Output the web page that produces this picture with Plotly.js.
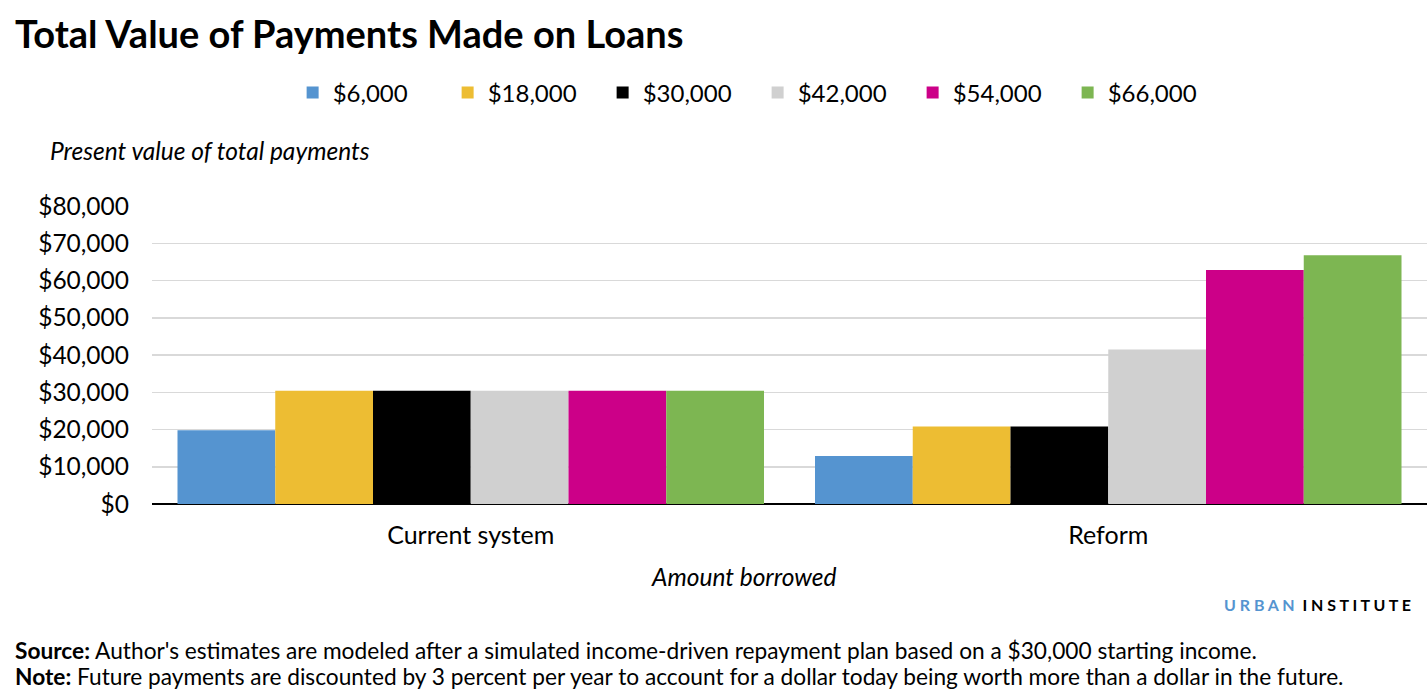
<!DOCTYPE html>
<html>
<head>
<meta charset="utf-8">
<script src="https://cdn.plot.ly/plotly-3.0.1.min.js"></script>
<style>
  html, body { margin: 0; padding: 0; background: #fff; }
  #chart { width: 1427px; height: 697px; }
</style>
</head>
<body>
<div id="chart"></div>
<script>
// ── data ──────────────────────────────────────────────────────────────
const categories = ['Current system', 'Reform'];
const seriesNames = ['$6,000', '$18,000', '$30,000', '$42,000', '$54,000', '$66,000'];
const seriesColors = ['#5594d0', '#edbd33', '#000000', '#d0d0d0', '#cc0088', '#7db652'];
const loan6k  = [19800, 12900];
const loan18k = [30400, 20800];
const loan30k = [30400, 20800];
const loan42k = [30400, 41500];
const loan54k = [30400, 62800];
const loan66k = [30400, 66800];
const seriesValues = [loan6k, loan18k, loan30k, loan42k, loan54k, loan66k];
const yTicks = [0, 10000, 20000, 30000, 40000, 50000, 60000, 70000, 80000];

const FONT = 'Lato, "Open Sans", sans-serif';

const traces = seriesNames.map(function (name, i) {
  return {
    type: 'bar',
    name: name,
    x: categories,
    y: seriesValues[i],
    marker: { color: seriesColors[i], line: { width: 0 } },
    hoverinfo: 'skip',
  };
});

const layout = {
  width: 1427,
  height: 697,
  margin: { l: 152, r: 0, t: 206, b: 193, pad: 0 },
  paper_bgcolor: '#fff',
  plot_bgcolor: '#fff',
  font: { family: FONT, color: '#000', size: 24 },
  barmode: 'group',
  bargap: 0.08,
  bargroupgap: 0,
  showlegend: true,
  legend: {
    orientation: 'h',
    x: 0.475, xanchor: 'center',
    y: 1 - 93 / 697, yref: 'container', yanchor: 'middle',
    font: { family: FONT, size: 24, color: '#000' },
    itemwidth: 30,
    traceorder: 'normal',
    entrywidth: 110,
    entrywidthmode: 'pixels',
  },
  xaxis: {
    type: 'category',
    showgrid: false,
    showline: false,
    ticks: '',
    tickfont: { family: FONT, size: 25 },
    ticklabelstandoff: 14,
    fixedrange: true,
  },
  yaxis: {
    range: [0, 80000],
    tickvals: yTicks,
    tickformat: '$,.0f',
    showgrid: true,
    gridcolor: '#d9d9d9',
    gridwidth: 1.5,
    zeroline: true,
    zerolinecolor: '#000',
    zerolinewidth: 2,
    showline: false,
    ticks: '',
    tickfont: { family: FONT, size: 24.5 },
    ticklabelstandoff: 22,
    fixedrange: true,
  },
  annotations: [
    {
      text: '<b>Total Value of Payments Made on Loans</b>',
      xref: 'paper', yref: 'paper', x: 0, y: 1, showarrow: false,
      xanchor: 'left', yanchor: 'middle',
      font: { family: FONT, size: 38, color: '#000' },
    },
    {
      text: '<i>Present value of total payments</i>',
      xref: 'paper', yref: 'paper', x: 0, y: 1, showarrow: false,
      xanchor: 'left', yanchor: 'middle',
      font: { family: FONT, size: 24.5, color: '#000' },
    },
    {
      text: '<i>Amount borrowed</i>',
      xref: 'paper', yref: 'paper', x: 0, y: 0, showarrow: false,
      xanchor: 'center', yanchor: 'middle',
      font: { family: FONT, size: 24.5, color: '#000' },
    },
    {
      text: '<b><span style="color:#5594d0">U R B A N</span>  I N S T I T U T E</b>',
      xref: 'paper', yref: 'paper', x: 1, y: 0, showarrow: false,
      xanchor: 'right', yanchor: 'middle',
      font: { family: FONT, size: 16, color: '#000' },
    },
    {
      text: '<b>Source:</b> Author\'s estimates are modeled after a simulated income-driven repayment plan based on a $30,000 starting income.',
      xref: 'paper', yref: 'paper', x: 0, y: 0, showarrow: false,
      xanchor: 'left', yanchor: 'middle',
      font: { family: FONT, size: 22.7, color: '#000' },
    },
    {
      text: '<b>Note:</b> Future payments are discounted by 3 percent per year to account for a dollar today being worth more than a dollar in the future.',
      xref: 'paper', yref: 'paper', x: 0, y: 0, showarrow: false,
      xanchor: 'left', yanchor: 'middle',
      font: { family: FONT, size: 22.7, color: '#000' },
    },
  ],
};

// place page-level texts in pixel positions (converted to paper coords)
const plotW = layout.width - layout.margin.l - layout.margin.r;
const plotH = layout.height - layout.margin.t - layout.margin.b;
function px(x) { return (x - layout.margin.l) / plotW; }
function py(y) { return (layout.height - layout.margin.b - y) / plotH; }
const pos = [[13, 33], [48, 150], [743, 576], [1413, 604], [13, 650], [13, 676]];
layout.annotations.forEach(function (a, i) {
  a.x = px(pos[i][0]);
  a.y = py(pos[i][1]);
});

Plotly.newPlot('chart', traces, layout, { displayModeBar: false, staticPlot: true });
</script>
</body>
</html>
